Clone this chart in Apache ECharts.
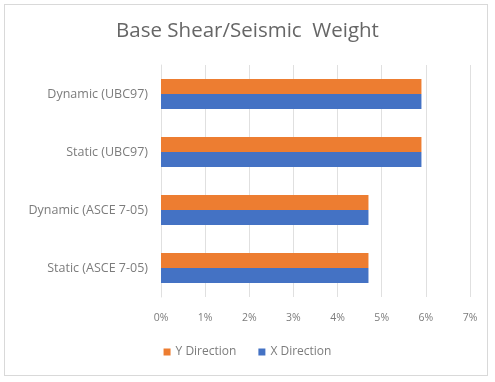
<!DOCTYPE html>
<html>
<head>
<meta charset="utf-8">
<script src="https://cdn.jsdelivr.net/npm/echarts@6/dist/echarts.min.js"></script>
<style>
  html, body { margin: 0; padding: 0; background: #fff; }
  #frame { position: absolute; left: 4px; top: 4px; width: 484px; height: 372px; border: 1px solid #d9d9d9; box-sizing: border-box; }
  #chart { width: 495px; height: 382px; }
</style>
</head>
<body>
<div id="frame"></div>
<div id="chart"></div>
<script>
// Categories listed bottom to top
const categories = ['Static (ASCE 7-05)', 'Dynamic (ASCE 7-05)', 'Static (UBC97)', 'Dynamic (UBC97)'];
const yDirection = [0.047, 0.047, 0.059, 0.059];
const xDirection = [0.047, 0.047, 0.059, 0.059];
const seriesNames = ['Y Direction', 'X Direction'];

const chart = echarts.init(document.getElementById('chart'), null, { renderer: 'canvas' });
const font = '"Open Sans", Lato, sans-serif';
const textGrey = '#7c7c7c';

chart.setOption({
  animation: false,
  backgroundColor: 'transparent',
  title: {
    text: 'Base Shear/Seismic  Weight',
    left: 'center',
    top: 16,
    textStyle: { fontFamily: font, fontSize: 20.5, fontWeight: 'normal', color: '#666666' }
  },
  legend: {
    data: seriesNames,
    bottom: 19,
    left: 'center',
    itemWidth: 7,
    itemHeight: 7,
    itemGap: 22,
    icon: 'rect',
    textStyle: { fontFamily: font, fontSize: 12, color: textGrey }
  },
  grid: { left: 161, right: 25, top: 65, bottom: 85 },
  xAxis: {
    type: 'value',
    min: 0,
    max: 0.07,
    interval: 0.01,
    axisLine: { show: false },
    axisTick: { show: false },
    splitLine: { lineStyle: { color: '#e0e0e0', width: 1 } },
    axisLabel: {
      fontFamily: font, fontSize: 10.5, color: textGrey, margin: 16,
      formatter: v => Math.round(v * 100) + '%'
    }
  },
  yAxis: {
    type: 'category',
    data: categories,
    axisLine: { show: true, lineStyle: { color: '#e0e0e0' } },
    axisTick: { show: false },
    axisLabel: { fontFamily: font, fontSize: 12.5, color: textGrey, margin: 13 }
  },
  series: [
    {
      name: 'Y Direction', type: 'bar', data: yDirection,
      itemStyle: { color: '#ED7D31' }, barGap: '0%', barCategoryGap: '48%'
    },
    {
      name: 'X Direction', type: 'bar', data: xDirection,
      itemStyle: { color: '#4472C4' }, barGap: '0%', barCategoryGap: '48%'
    }
  ]
});
</script>
</body>
</html>
